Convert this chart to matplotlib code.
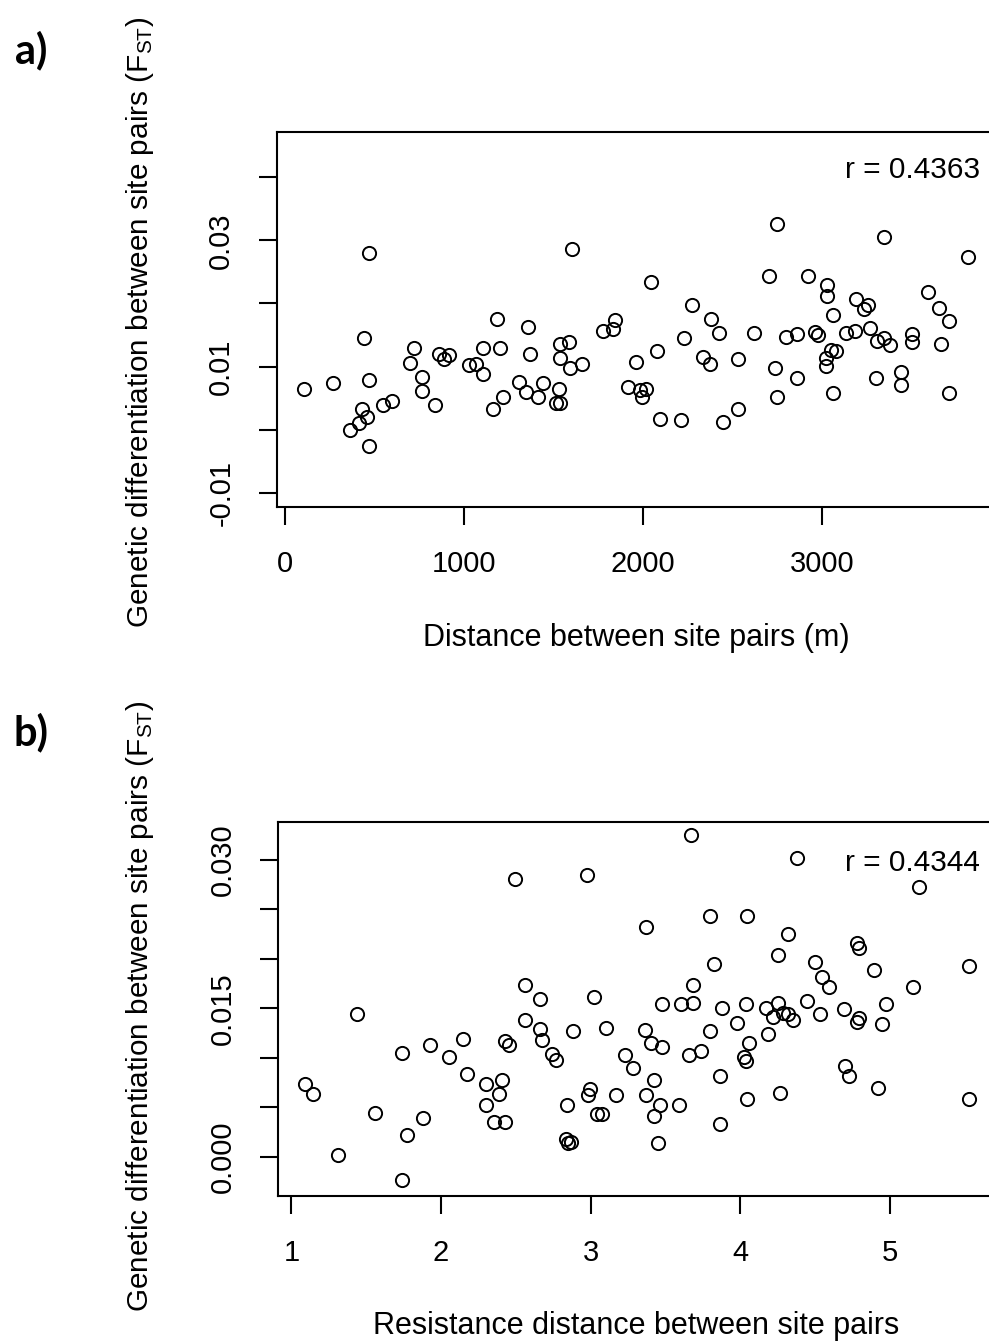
import matplotlib
matplotlib.use('Agg')
import matplotlib.pyplot as plt

plt.rcParams['font.family'] = ['Liberation Sans', 'DejaVu Sans']
plt.rcParams['mathtext.default'] = 'regular'

# ---- panel a: geographic distance (m) vs pairwise FST ----
dist_m = [
    472, 1183, 441, 720, 1205, 1108, 861, 917, 891, 698, 1030, 1069, 1108, 766, 472,
    268, 106, 766, 1307, 599, 547, 839, 1217, 1161, 430, 461, 416, 364, 472,
    1605, 2048, 2273, 2381, 2425, 1845, 1778, 1834, 1358, 2230, 1540, 1585, 2081, 1369,
    1540, 2336, 2373, 2532, 1592, 1659, 1960, 1443, 1347, 1412, 1531, 1514, 1540, 1917,
    1984, 2018, 1996, 2093, 2210, 2448, 2532,
    2751, 3344, 3817, 2706, 2922, 3030, 3030, 3592, 3192, 3255, 3234, 3653, 3709, 3060,
    2621, 2801, 2859, 2963, 2978, 3136, 3183, 3266, 3304, 3344, 3378, 3504, 3504, 3666,
    3047, 3080, 3021, 3021, 2738, 2859, 3300, 3439, 3439, 2749, 3061, 3709,
]
fst_a = [
    0.0280, 0.01756, 0.01446, 0.01298, 0.01293, 0.01293, 0.01202, 0.01181, 0.01127,
    0.01063, 0.01021, 0.01042, 0.00887, 0.00835, 0.00787, 0.00734, 0.00638, 0.00606,
    0.00763, 0.00456, 0.00393, 0.00393, 0.00511, 0.00329, 0.00335, 0.00207, 0.00101,
    -0.00011, -0.00262,
    0.02862, 0.0234, 0.01968, 0.01756, 0.01532, 0.01733, 0.01564, 0.01596, 0.01628,
    0.01446, 0.0135, 0.01382, 0.01254, 0.01197, 0.01138, 0.01159, 0.01042, 0.01112,
    0.00974, 0.01042, 0.01074, 0.00734, 0.0060, 0.00511, 0.00643, 0.00425, 0.00425,
    0.0067, 0.00627, 0.00643, 0.00511, 0.00176, 0.00148, 0.00117, 0.00327,
    0.03265, 0.03048, 0.02739, 0.02431, 0.02431, 0.02287, 0.02116, 0.02187, 0.02075,
    0.01968, 0.01904, 0.01931, 0.01717, 0.01813, 0.01537, 0.01473, 0.0151, 0.01542,
    0.0150, 0.01532, 0.01569, 0.01606, 0.01409, 0.01457, 0.01341, 0.0151, 0.01382,
    0.0135, 0.01266, 0.01254, 0.01138, 0.0101, 0.00983, 0.00824, 0.00824, 0.00919,
    0.00702, 0.00516, 0.00579, 0.00579,
]

# ---- panel b: resistance distance vs pairwise FST ----
resist = [
    2.496, 1.438, 1.737, 1.929, 2.056, 2.145, 2.428, 2.453, 2.174, 2.301, 2.406, 2.390,
    2.301, 2.352, 2.430, 1.089, 1.142, 1.555, 1.876, 1.771, 1.311, 1.737,
    3.669, 2.972, 3.370, 3.796, 4.043, 3.825, 2.559, 2.664, 3.025, 3.683, 3.475, 3.602,
    3.683, 3.876, 4.035, 2.559, 2.664, 2.675, 2.882, 3.101, 3.360, 3.402, 3.477, 3.796,
    3.979, 4.057, 2.740, 2.771, 3.230, 3.283, 3.656, 3.734, 4.023, 4.035, 3.422, 3.861,
    2.996, 2.985, 3.166, 3.370, 2.842, 3.464, 3.591, 4.043, 3.039, 3.076, 3.422, 3.861,
    2.832, 2.865, 2.849, 3.451,
    4.380, 5.193, 4.318, 4.777, 4.792, 4.251, 4.496, 4.892, 5.525, 4.545, 4.594, 5.151,
    4.170, 4.251, 4.219, 4.282, 4.316, 4.353, 4.445, 4.533, 4.690, 4.794, 4.777, 4.973,
    4.948, 4.188, 4.701, 4.727, 4.921, 4.262, 5.525,
]
fst_b = [
    0.02804, 0.01442, 0.01048, 0.01126, 0.01008, 0.01187, 0.01173, 0.01126, 0.00836,
    0.00735, 0.00778, 0.00637, 0.00523, 0.00348, 0.00348, 0.00738, 0.00637, 0.00445,
    0.00388, 0.00216, 0.00017, -0.00236,
    0.03252, 0.02844, 0.02319, 0.02433, 0.02431, 0.01948, 0.01736, 0.01594, 0.01617,
    0.01736, 0.0154, 0.0154, 0.01557, 0.0150, 0.0154, 0.01382, 0.01288, 0.0118, 0.01268,
    0.01304, 0.01284, 0.01149, 0.01106, 0.01268, 0.01348, 0.01149, 0.01035, 0.00974,
    0.01028, 0.00894, 0.01028, 0.01071, 0.01011, 0.0097, 0.00778, 0.00816, 0.00687,
    0.00621, 0.00621, 0.00621, 0.00523, 0.00523, 0.00523, 0.00581, 0.00429, 0.00429,
    0.00411, 0.00331, 0.00176, 0.00152, 0.00135, 0.00135,
    0.03016, 0.02726, 0.02254, 0.02163, 0.02107, 0.02042, 0.01965, 0.01884, 0.01928,
    0.01816, 0.01715, 0.01715, 0.0150, 0.01557, 0.01415, 0.01456, 0.01442, 0.01382,
    0.01574, 0.01439, 0.01496, 0.01399, 0.01359, 0.0154, 0.01338, 0.01243, 0.00914,
    0.00813, 0.00697, 0.00641, 0.0058,
]

r_a = 'r = 0.4363'
r_b = 'r = 0.4344'

FS = 21
W, H = 989, 1344


def frac(x0, y0, x1, y1):
    # pixel box -> figure fraction [left, bottom, width, height]
    return [x0 / W, 1 - y1 / H, (x1 - x0) / W, (y1 - y0) / H]


def style(ax, xticks, xlabels, yticks, ylabels):
    for s in ax.spines.values():
        s.set_linewidth(1.5)
    ax.set_xticks(xticks)
    ax.set_xticklabels(xlabels)
    ax.set_yticks(yticks)
    ax.set_yticklabels(ylabels, rotation=90, va='center')
    ax.tick_params(axis='both', direction='out', length=13, width=1.5,
                   labelsize=FS)
    ax.tick_params(axis='x', pad=18)
    ax.tick_params(axis='y', pad=17)


fig = plt.figure(figsize=(W / 100, H / 100), dpi=100)

# panel a
ax1 = fig.add_axes(frac(277, 131.7, 995, 506.7))
ax1.plot(dist_m, fst_a, 'o', mfc='none', mec='black', ms=9.5, mew=1.4)
ax1.set_xlim(-42, 3965)
ax1.set_ylim(-0.0122, 0.0472)
style(ax1, [0, 1000, 2000, 3000], ['0', '1000', '2000', '3000'],
      [-0.01, 0.0, 0.01, 0.02, 0.03, 0.04], ['-0.01', '', '0.01', '', '0.03', ''])
ax1.text(3880, 0.0411, r_a, ha='right', va='center', fontsize=21.5)

# panel b
ax2 = fig.add_axes(frac(278.3, 821.7, 995, 1195.7))
ax2.plot(resist, fst_b, 'o', mfc='none', mec='black', ms=9.5, mew=1.4)
ax2.set_xlim(0.912, 5.702)
ax2.set_ylim(-0.00394, 0.03386)
style(ax2, [1, 2, 3, 4, 5], ['1', '2', '3', '4', '5'],
      [0.0, 0.005, 0.01, 0.015, 0.02, 0.025, 0.03],
      ['0.000', '', '', '0.015', '', '', '0.030'])
ax2.text(5.60, 0.0297, r_b, ha='right', va='center', fontsize=21.5)

ylab = 'Genetic differentiation between site pairs (F$_{ST}$)'
fig.text(140 / W, 1 - 322 / H, ylab, rotation=90, ha='center', va='center', fontsize=21.4)
fig.text(140 / W, 1 - 1006 / H, ylab, rotation=90, ha='center', va='center', fontsize=21.4)
fig.text(636 / W, 1 - 638 / H, 'Distance between site pairs (m)',
         ha='center', va='center', fontsize=22)
fig.text(636 / W, 1 - 1326 / H, 'Resistance distance between site pairs',
         ha='center', va='center', fontsize=22)
fig.text(31 / W, 1 - 50 / H, 'a)', ha='center', va='center', fontsize=30,
         fontweight='bold', family=['Lato', 'DejaVu Sans'])
fig.text(31 / W, 1 - 732 / H, 'b)', ha='center', va='center', fontsize=30,
         fontweight='bold', family=['Lato', 'DejaVu Sans'])

fig.savefig('out.png', dpi=100)
